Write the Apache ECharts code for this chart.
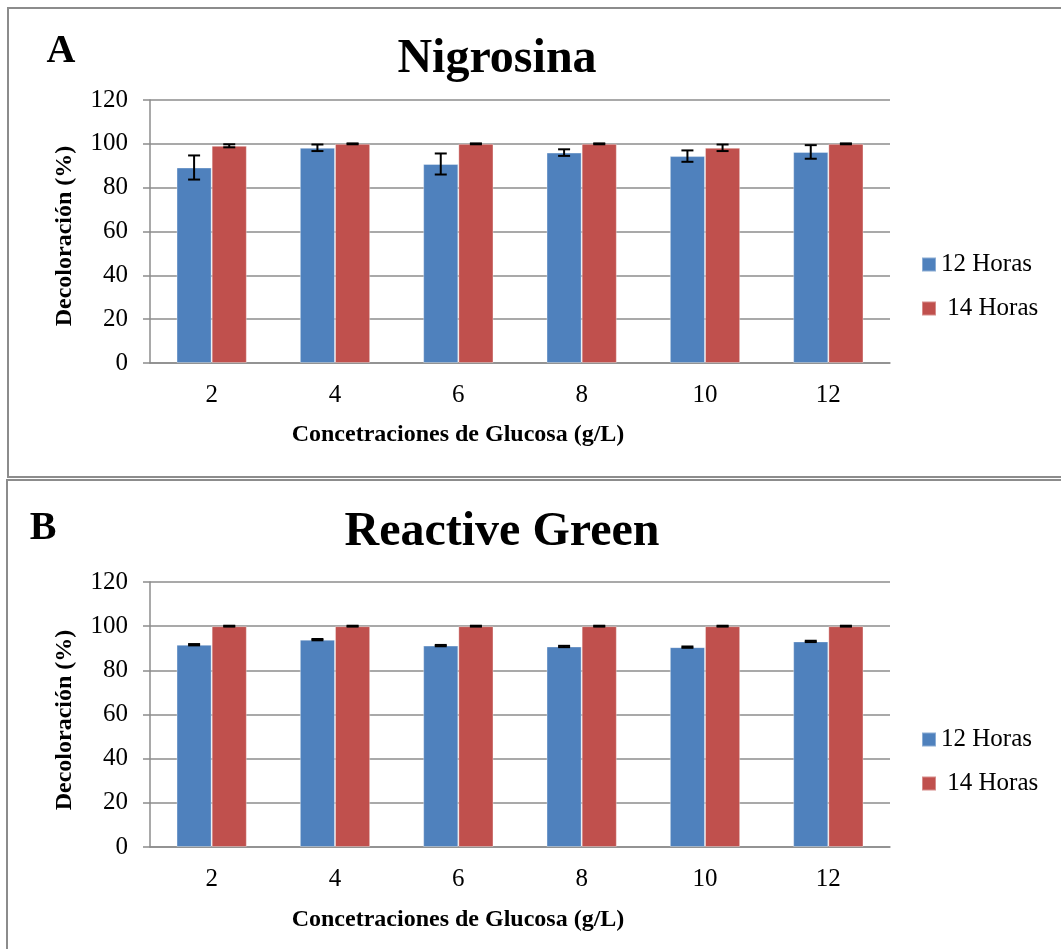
<!DOCTYPE html>
<html>
<head>
<meta charset="utf-8">
<title>Decoloración vs glucosa</title>
<script src="https://cdn.jsdelivr.net/npm/echarts@6/dist/echarts.min.js"></script>
<style>
  html, body { margin: 0; padding: 0; background: #ffffff; }
  #chart { width: 1061px; height: 949px; }
</style>
</head>
<body>
<div id="chart"></div>
<script>
// Glucose concentrations (g/L)
const categories = ['2', '4', '6', '8', '10', '12'];
const seriesNames = ['12 Horas', '14 Horas'];
const yTicks = { min: 0, max: 120, interval: 20 };

// Panel A: Nigrosina — mean decolorisation (%) and error
const nigro12 = [89.2, 98.2, 90.8, 96.0, 94.4, 96.3];
const nigro12Err = [5.5, 1.5, 4.8, 1.5, 2.6, 3.1];
const nigro14 = [99.1, 100, 100, 100, 98.2, 100];
const nigro14Err = [0.7, 0.2, 0.2, 0.2, 1.5, 0.2];

// Panel B: Reactive Green — mean decolorisation (%) and error
const green12 = [91.6, 93.9, 91.2, 90.8, 90.5, 93.1];
const green12Err = [0.3, 0.3, 0.3, 0.3, 0.3, 0.3];
const green14 = [100, 100, 100, 100, 100, 100];
const green14Err = [0.2, 0.2, 0.2, 0.2, 0.2, 0.2];

const BLUE = '#4f81bd';
const RED = '#c0504d';
const SERIF = '"Liberation Serif", "Times New Roman", serif';
const GRID_GRAY = '#8c8c8c';
const CAT_GAP = 0.43;

// Error whiskers drawn on top of one bar of each pair (side -1 = left bar, +1 = right bar)
function errorSeries(gridIdx, values, errs, side) {
  return {
    type: 'custom',
    xAxisIndex: gridIdx,
    yAxisIndex: gridIdx,
    z: 10,
    silent: true,
    data: values.map((v, i) => [i, v, errs[i]]),
    renderItem: function (params, api) {
      const i = api.value(0), v = api.value(1), e = api.value(2);
      const band = api.size([1, 0])[0];
      const offset = side * band * (1 - CAT_GAP) / 4;
      const top = api.coord([i, v + e]);
      const bot = api.coord([i, v - e]);
      const x = top[0] + offset;
      const cap = 6;
      const style = { stroke: '#000', lineWidth: 2 };
      return {
        type: 'group',
        children: [
          { type: 'line', shape: { x1: x, y1: top[1], x2: x, y2: bot[1] }, style: style },
          { type: 'line', shape: { x1: x - cap, y1: top[1], x2: x + cap, y2: top[1] }, style: style },
          { type: 'line', shape: { x1: x - cap, y1: bot[1], x2: x + cap, y2: bot[1] }, style: style }
        ]
      };
    }
  };
}

function barSeries(gridIdx, name, values, color) {
  return {
    type: 'bar',
    name: name,
    xAxisIndex: gridIdx,
    yAxisIndex: gridIdx,
    data: values,
    barGap: '0%',
    barCategoryGap: (CAT_GAP * 100) + '%',
    itemStyle: { color: color, borderColor: 'rgba(255,255,255,0.35)', borderWidth: 1 },
    emphasis: { disabled: true }
  };
}

function xAxis(gridIdx) {
  return {
    type: 'category',
    gridIndex: gridIdx,
    data: categories,
    axisLine: { show: true, lineStyle: { color: GRID_GRAY, width: 1.5 } },
    axisTick: { show: false },
    axisLabel: { color: '#000', fontFamily: SERIF, fontSize: 25, margin: 20 }
  };
}

function yAxis(gridIdx) {
  return {
    type: 'value',
    gridIndex: gridIdx,
    min: yTicks.min,
    max: yTicks.max,
    interval: yTicks.interval,
    axisLine: { show: true, lineStyle: { color: GRID_GRAY, width: 1.5 } },
    axisTick: { show: true, length: 7, lineStyle: { color: GRID_GRAY, width: 1.5 } },
    splitLine: { show: true, lineStyle: { color: GRID_GRAY, width: 1.5 } },
    axisLabel: { color: '#000', fontFamily: SERIF, fontSize: 25, margin: 22 }
  };
}

function legend(top) {
  return {
    orient: 'vertical',
    left: 921,
    top: top,
    padding: 0,
    itemWidth: 14,
    itemHeight: 14,
    itemGap: 17,
    icon: 'rect',
    selectedMode: false,
    data: seriesNames,
    formatter: function (name) { return name === '14 Horas' ? ' ' + name : name; },
    textStyle: { color: '#000', fontFamily: SERIF, fontSize: 25, lineHeight: 27, padding: [0, 0, 0, 0] }
  };
}

function text(x, y, str, size, bold, rotation) {
  return {
    type: 'text',
    x: x, y: y,
    rotation: rotation || 0,
    style: {
      text: str,
      fill: '#000',
      font: (bold ? 'bold ' : '') + size + 'px ' + SERIF,
      textAlign: 'center',
      textVerticalAlign: 'middle'
    }
  };
}

const chart = echarts.init(document.getElementById('chart'), null, { renderer: 'canvas' });

chart.setOption({
  backgroundColor: '#ffffff',
  animation: false,
  grid: [
    { left: 150, width: 740, top: 100, height: 263 },
    { left: 150, width: 740, top: 582, height: 265 }
  ],
  xAxis: [xAxis(0), xAxis(1)],
  yAxis: [yAxis(0), yAxis(1)],
  legend: [legend(251), legend(726)],
  series: [
    barSeries(0, '12 Horas', nigro12, BLUE),
    barSeries(0, '14 Horas', nigro14, RED),
    errorSeries(0, nigro12, nigro12Err, -1),
    errorSeries(0, nigro14, nigro14Err, 1),
    barSeries(1, '12 Horas', green12, BLUE),
    barSeries(1, '14 Horas', green14, RED),
    errorSeries(1, green12, green12Err, -1),
    errorSeries(1, green14, green14Err, 1)
  ],
  graphic: [
    // panel frames
    { type: 'rect', shape: { x: 8, y: 8, width: 1070, height: 469 },
      style: { fill: 'none', stroke: '#8c8c8c', lineWidth: 2 }, z: -1 },
    { type: 'rect', shape: { x: 7, y: 480, width: 1070, height: 490 },
      style: { fill: 'none', stroke: '#8c8c8c', lineWidth: 2 }, z: -1 },
    // panel letters and titles
    text(61, 52, 'A', 40, true),
    text(497, 60, 'Nigrosina', 48, true),
    text(43, 529, 'B', 40, true),
    text(502, 533, 'Reactive Green', 48, true),
    // axis titles
    text(65, 236, 'Decoloración (%)', 24, true, Math.PI / 2),
    text(458, 435, 'Concetraciones de Glucosa (g/L)', 24, true),
    text(65, 720, 'Decoloración (%)', 24, true, Math.PI / 2),
    text(458, 920, 'Concetraciones de Glucosa (g/L)', 24, true)
  ]
});
</script>
</body>
</html>
